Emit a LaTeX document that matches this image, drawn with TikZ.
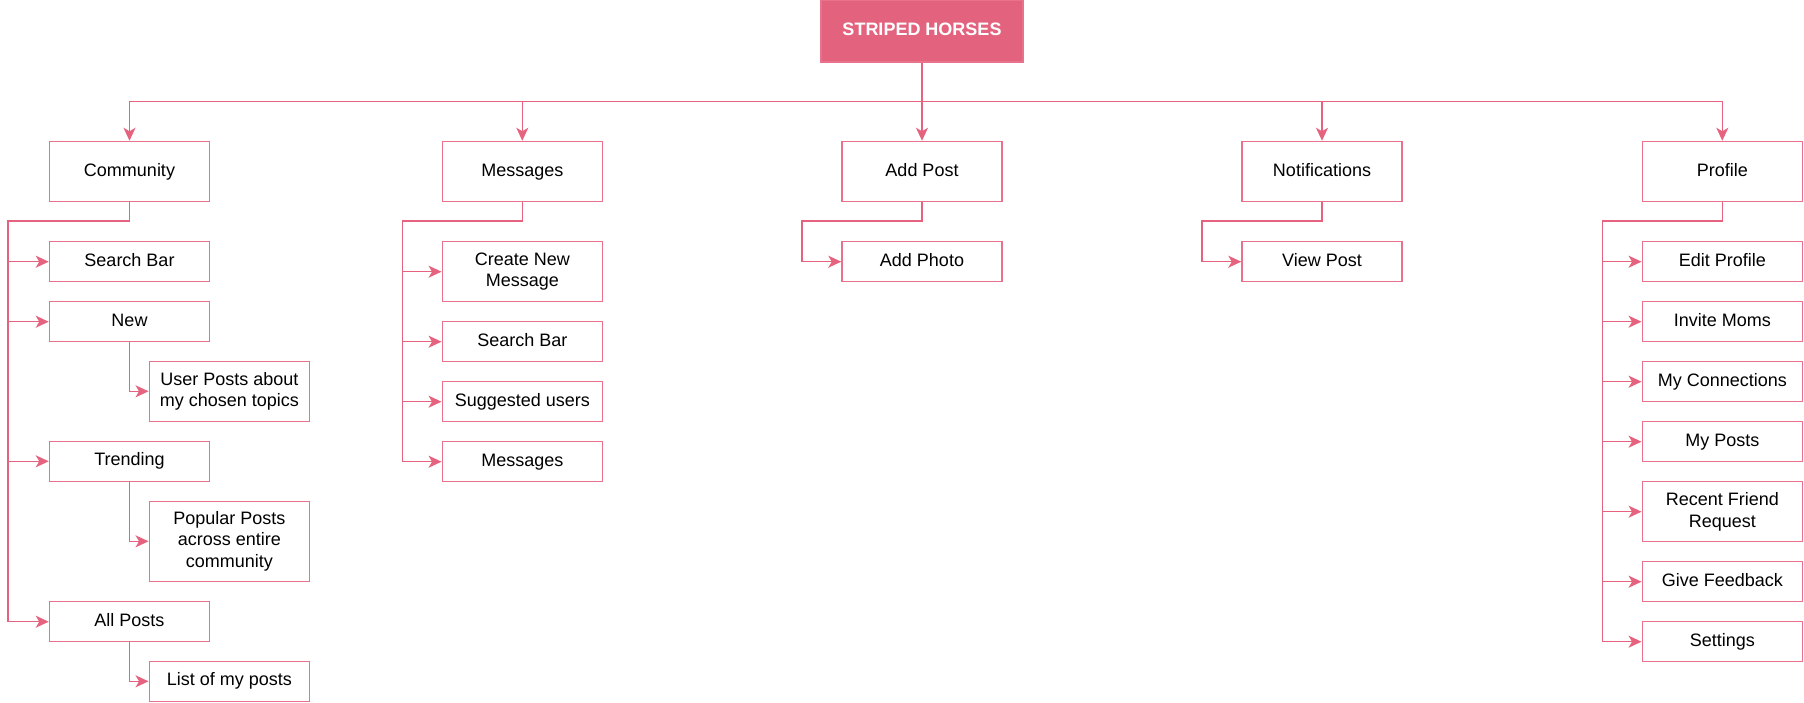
\documentclass[tikz,border=0pt]{standalone}
\usepackage{fontspec}
\setmainfont{Liberation Sans}
\usetikzlibrary{arrows.meta}
\definecolor{pk}{HTML}{E5637F}
\definecolor{pkb}{HTML}{E8728C}
\definecolor{pkf}{HTML}{E3637F}
\begin{document}
\begin{tikzpicture}[x=1pt,y=-1pt,
  box/.style={draw=pkb,line width=1.5pt,fill=white,minimum width=160pt,minimum height=40pt,inner sep=0pt,align=center,font=\fontsize{18}{21.5}\selectfont},
  one/.style={text height=13pt,text depth=4pt},
  tall/.style={box,minimum height=60pt},
  taller/.style={box,minimum height=80pt},
  titlebox/.style={box,one,fill=pkf,text=white,minimum width=202pt,minimum height=62pt,font=\fontsize{18}{21.5}\selectfont\bfseries},
  conn/.style={draw=pk,line width=1.5pt,-{Stealth[length=13pt,width=12pt,inset=3.5pt]}}]
\useasboundingbox (0,0) rectangle (1804,702);
% root
\node[titlebox] (root) at (922,31) {STRIPED HORSES};
% top level
\node[tall,one] (com) at (129.5,171.5) {Community};
\node[tall,one] (msg) at (522.3,171.5) {Messages};
\node[tall,one] (add) at (922,171.5) {Add Post};
\node[tall,one] (ntf) at (1322,171.5) {Notifications};
\node[tall,one] (pro) at (1722.3,171.5) {Profile};
% community children
\node[box,one] (csb) at (129.5,261.7) {Search Bar};
\node[box,one] (cnew) at (129.5,321.7) {New};
\node[tall] (cup) at (229.3,391.3) {User Posts about\\my chosen topics};
\node[box,one] (ctr) at (129.5,461.3) {Trending};
\node[taller] (cpp) at (229.3,541.3) {Popular Posts\\across entire\\community};
\node[box,one] (call) at (129.5,621.7) {All Posts};
\node[box,one] (clist) at (229.3,681.3) {List of my posts};
% messages children
\node[tall] (mcn) at (522.3,271.7) {Create New\\Message};
\node[box,one] (msb) at (522.3,341.7) {Search Bar};
\node[box,one] (msu) at (522.3,401.7) {Suggested users};
\node[box,one] (mms) at (522.3,461.7) {Messages};
% add post / notifications children
\node[box,one] (aph) at (922,261.7) {Add Photo};
\node[box,one] (vpo) at (1322,261.7) {View Post};
% profile children
\node[box,one] (pep) at (1722.3,261.7) {Edit Profile};
\node[box,one] (pim) at (1722.3,321.7) {Invite Moms};
\node[box,one] (pmc) at (1722.3,381.7) {My Connections};
\node[box,one] (pmp) at (1722.3,441.7) {My Posts};
\node[tall] (prf) at (1722.3,511.7) {Recent Friend\\Request};
\node[box,one] (pgf) at (1722.3,581.7) {Give Feedback};
\node[box,one] (pst) at (1722.3,641.7) {Settings};
% bus coordinates
\coordinate (top) at (922,101.7);
\coordinate (cb) at (8,221);
\coordinate (mb) at (402.3,221);
\coordinate (ab) at (802,221);
\coordinate (nb) at (1202,221);
\coordinate (pb) at (1602.7,221);
% top connectors
\draw[conn] (root.south) -- (top) -| (com.north);
\draw[conn] (root.south) -- (top) -| (msg.north);
\draw[conn] (root.south) -- (add.north);
\draw[conn] (root.south) -- (top) -| (ntf.north);
\draw[conn] (root.south) -- (top) -| (pro.north);
% community
\foreach \c in {csb,cnew,ctr,call} \draw[conn] (com.south) |- (cb) |- (\c.west);
\draw[conn] (cnew.south) |- (cup.west);
\draw[conn] (ctr.south) |- (cpp.west);
\draw[conn] (call.south) |- (clist.west);
% messages
\foreach \c in {mcn,msb,msu,mms} \draw[conn] (msg.south) |- (mb) |- (\c.west);
% add post, notifications
\draw[conn] (add.south) |- (ab) |- (aph.west);
\draw[conn] (ntf.south) |- (nb) |- (vpo.west);
% profile
\foreach \c in {pep,pim,pmc,pmp,prf,pgf,pst} \draw[conn] (pro.south) |- (pb) |- (\c.west);
\end{tikzpicture}
\end{document}
